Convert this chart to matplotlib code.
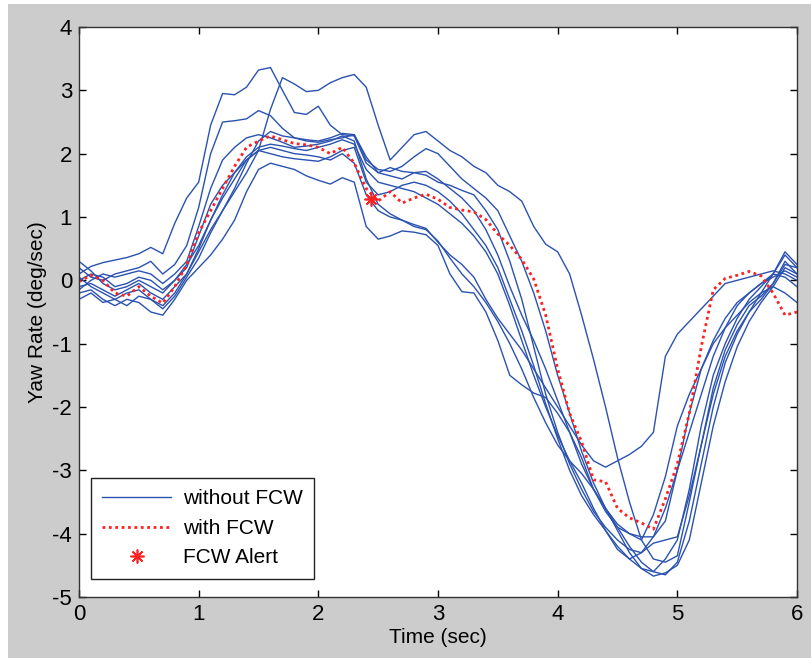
import numpy as np
import matplotlib
matplotlib.use("Agg")
from matplotlib import pyplot as plt
from matplotlib.patches import Rectangle

plt.rcParams['axes.unicode_minus'] = False

# time axis (sec), one sample every 0.1 s
time_s = [round(0.1 * i, 1) for i in range(61)]

# yaw rate (deg/sec), runs without FCW
run_1 = [0.10, 0.22, 0.28, 0.32, 0.36, 0.42, 0.52, 0.42, 0.90, 1.30,
         1.55, 2.45, 2.95, 2.93, 3.05, 3.32, 3.36, 3.00, 2.65, 2.62,
         2.75, 2.45, 2.30, 2.28, 1.85, 1.70, 1.78, 1.72, 1.70, 1.66,
         1.55, 1.50, 1.42, 1.35, 1.10, 0.80, 0.30, -0.30, -1.05, -1.80,
         -2.40, -2.90, -3.30, -3.65, -3.90, -4.10, -4.25, -4.30, -4.05, -3.60,
         -3.00, -2.40, -1.80, -1.20, -0.75, -0.40, -0.20, -0.05, 0.05, 0.15, 0.05]
run_2 = [-0.10, -0.05, -0.15, -0.25, -0.15, -0.05, -0.20, -0.30, -0.10, 0.10,
         0.45, 0.80, 1.10, 1.40, 1.70, 2.05, 2.70, 3.20, 3.10, 2.98,
         3.00, 3.12, 3.20, 3.25, 3.05, 2.45, 1.90, 2.10, 2.30, 2.35,
         2.20, 2.05, 1.95, 1.80, 1.70, 1.50, 1.40, 1.25, 0.85, 0.57,
         0.45, 0.10, -0.55, -1.25, -2.00, -2.80, -3.50, -4.10, -4.40, -4.45,
         -4.35, -3.50, -2.60, -1.70, -1.10, -0.70, -0.40, -0.25, -0.05, 0.25, 0.20]
run_3 = [0.20, 0.05, 0.00, 0.10, 0.15, 0.20, 0.30, 0.10, 0.25, 0.55,
         1.15, 2.00, 2.50, 2.52, 2.55, 2.68, 2.60, 2.40, 2.25, 2.20,
         2.18, 2.22, 2.25, 2.30, 1.90, 1.75, 1.72, 1.80, 1.95, 2.08,
         2.00, 1.80, 1.60, 1.45, 1.30, 1.10, 0.70, 0.30, -0.20, -0.80,
         -1.50, -2.10, -2.70, -3.20, -3.60, -3.95, -4.30, -4.55, -4.60, -4.40,
         -4.10, -3.30, -2.30, -1.50, -1.00, -0.60, -0.30, -0.10, 0.10, 0.40, 0.20]
run_4 = [-0.20, -0.15, -0.30, -0.40, -0.30, -0.35, -0.50, -0.55, -0.30, 0.00,
         0.20, 0.40, 0.65, 0.95, 1.40, 1.75, 1.85, 1.80, 1.75, 1.65,
         1.58, 1.52, 1.62, 1.55, 0.85, 0.65, 0.70, 0.78, 0.76, 0.72,
         0.55, 0.10, -0.18, -0.20, -0.50, -0.95, -1.50, -1.65, -1.78, -1.85,
         -2.10, -2.40, -2.80, -3.30, -3.65, -3.90, -4.00, -4.10, -3.70, -3.10,
         -2.30, -1.80, -1.40, -1.00, -0.75, -0.55, -0.35, -0.20, -0.10, -0.20, -0.35]
run_5 = [0.00, 0.10, 0.05, -0.10, -0.05, 0.05, 0.00, -0.15, 0.00, 0.20,
         0.70, 1.20, 1.50, 1.70, 1.90, 2.05, 2.10, 2.05, 2.00, 1.98,
         1.95, 1.90, 2.00, 1.85, 1.35, 1.10, 1.00, 0.95, 0.88, 0.82,
         0.60, 0.40, 0.25, 0.05, -0.30, -0.60, -0.85, -1.10, -1.40, -1.70,
         -2.00, -2.30, -2.60, -2.85, -2.95, -2.85, -2.75, -2.62, -2.40, -1.20,
         -0.85, -0.65, -0.45, -0.25, -0.05, 0.00, 0.05, 0.10, 0.15, 0.10, 0.00]
run_6 = [-0.30, -0.20, -0.35, -0.30, -0.20, -0.15, -0.30, -0.45, -0.25, 0.05,
         0.35, 0.75, 1.10, 1.45, 1.85, 2.20, 2.35, 2.28, 2.25, 2.22,
         2.20, 2.25, 2.32, 2.30, 1.95, 1.70, 1.65, 1.60, 1.70, 1.72,
         1.60, 1.45, 1.30, 1.10, 0.80, 0.40, -0.10, -0.55, -0.95, -1.40,
         -1.90, -2.40, -2.90, -3.30, -3.60, -3.90, -4.20, -4.45, -4.60, -4.65,
         -4.45, -3.80, -2.90, -2.00, -1.30, -0.85, -0.50, -0.20, 0.10, 0.45, 0.25]
run_7 = [0.30, 0.15, -0.05, -0.15, -0.10, 0.00, -0.10, -0.20, 0.00, 0.25,
         0.55, 0.95, 1.30, 1.60, 1.90, 2.05, 2.00, 1.95, 1.92, 1.90,
         1.88, 1.95, 2.05, 2.10, 1.55, 1.35, 1.40, 1.50, 1.55, 1.50,
         1.40, 1.25, 1.05, 0.80, 0.55, 0.20, -0.30, -0.80, -1.35, -1.95,
         -2.50, -3.00, -3.40, -3.70, -3.95, -4.20, -4.40, -4.55, -4.67, -4.62,
         -4.50, -4.10, -3.20, -2.30, -1.60, -1.05, -0.65, -0.35, -0.10, 0.20, 0.10]
run_8 = [0.05, -0.10, -0.20, -0.30, -0.40, -0.25, -0.30, -0.40, -0.20, 0.10,
         0.50, 0.95, 1.35, 1.70, 1.95, 2.10, 2.15, 2.12, 2.08, 2.05,
         2.10, 2.15, 2.22, 2.15, 1.75, 1.55, 1.50, 1.45, 1.40, 1.30,
         1.20, 1.05, 0.90, 0.70, 0.45, 0.10, -0.40, -0.95, -1.50, -2.00,
         -2.45, -2.85, -3.20, -3.60, -3.95, -4.25, -4.40, -4.30, -4.15, -4.10,
         -4.05, -3.40, -2.60, -1.80, -1.20, -0.80, -0.50, -0.30, -0.05, 0.30, 0.10]
run_9 = [-0.15, 0.00, 0.10, 0.05, 0.10, 0.15, 0.10, -0.05, 0.10, 0.30,
         0.85, 1.45, 1.90, 2.10, 2.25, 2.30, 2.25, 2.18, 2.10, 2.12,
         2.15, 2.20, 2.28, 2.20, 1.60, 1.20, 1.05, 0.95, 0.85, 0.80,
         0.62, 0.35, 0.10, -0.10, -0.35, -0.65, -1.00, -1.40, -1.85, -2.25,
         -2.60, -2.85, -3.05, -3.30, -3.60, -3.85, -4.00, -4.05, -4.05, -3.80,
         -3.00, -2.10, -1.40, -0.95, -0.60, -0.35, -0.20, -0.05, 0.10, 0.05, -0.10]

# yaw rate (deg/sec), run with FCW
with_fcw = [-0.02, 0.08, 0.00, -0.20, -0.25, -0.10, -0.25, -0.36, -0.10, 0.25,
            0.75, 1.10, 1.45, 1.80, 2.10, 2.20, 2.28, 2.22, 2.16, 2.14,
            2.10, 2.00, 2.10, 1.85, 1.45, 1.25, 1.40, 1.22, 1.30, 1.36,
            1.28, 1.15, 1.11, 1.08, 0.96, 0.73, 0.55, 0.33, 0.02, -0.55,
            -1.40, -2.10, -2.55, -3.15, -3.18, -3.60, -3.75, -3.83, -3.93, -3.45,
            -2.90, -2.10, -1.05, -0.15, 0.03, 0.08, 0.14, 0.07, -0.20, -0.55, -0.50]

alert_time = [2.44]
alert_yaw = [1.28]

runs_without = [run_1, run_2, run_3, run_4, run_5, run_6, run_7, run_8, run_9]

blue = '#2a52b0'
red = '#ff2020'
font = 'Liberation Sans'

fig = plt.figure(figsize=(8.12, 6.58), dpi=100, facecolor='white')
fig.patches.append(Rectangle((8 / 812, 0), 1, 1 - 4 / 658, transform=fig.transFigure,
                             facecolor='#cccccc', edgecolor='none', zorder=-10))
ax = fig.add_axes([79 / 812, 1 - 597 / 658, 718 / 812, 570 / 658])

for i, run in enumerate(runs_without):
    ax.plot(time_s, run, color=blue, lw=1.0,
            label='without FCW' if i == 0 else None)
ax.plot(time_s, with_fcw, color=red, lw=2.0, linestyle=(0, (1, 1.3)), label='with FCW')
# MATLAB style '*' marker: 8 thin arms
ax.plot(alert_time, alert_yaw, linestyle='none', marker=(8, 2, 0), color=red,
        markersize=10, markeredgewidth=1.2, label='FCW Alert')

ax.set_xlim(0, 6)
ax.set_ylim(-5, 4)
ax.set_xticks(range(0, 7))
ax.set_yticks(range(-5, 5))
ax.tick_params(direction='in', length=5, width=1, top=True, right=True,
               labelsize=16, pad=5, colors='black')
for lab in ax.get_xticklabels() + ax.get_yticklabels():
    lab.set_family(font)
for s in ax.spines.values():
    s.set_linewidth(1.0)
    s.set_color('#333333')

ax.set_xlabel('Time (sec)', family=font, fontsize=15, labelpad=2)
ax.set_ylabel('Yaw Rate (deg/sec)', family=font, fontsize=15, labelpad=4)

leg = ax.legend(loc='lower left', bbox_to_anchor=(0.0167, 0.032), borderaxespad=0,
                fancybox=False, framealpha=1, edgecolor='#222222', handlelength=3.3,
                prop={'family': font, 'size': 15},
                borderpad=0.55, labelspacing=0.5, handletextpad=0.55)
leg.get_frame().set_linewidth(1.0)

fig.savefig('out.png', dpi=100, facecolor=fig.get_facecolor())
